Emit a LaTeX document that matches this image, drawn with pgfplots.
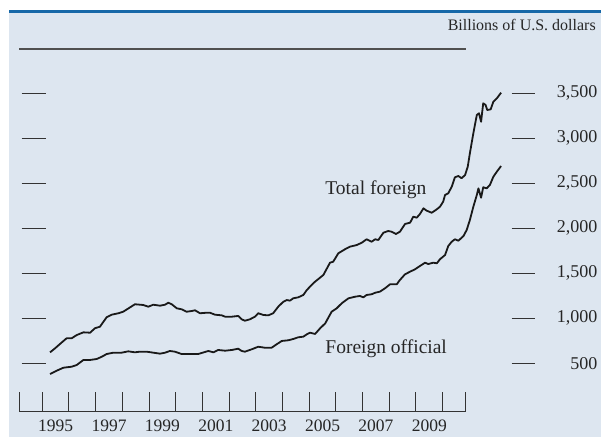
\documentclass[border=0pt]{standalone}
\usepackage{pgfplots}
\pgfplotsset{compat=1.18}
\usepackage{fontspec}
\setmainfont{Liberation Serif}
\definecolor{panel}{RGB}{221,230,240}
\definecolor{topbar}{RGB}{22,104,168}
\definecolor{rulegray}{RGB}{80,80,80}
\begin{document}
\begin{tikzpicture}
\begin{axis}[
  scale only axis, width=601pt, height=437pt,
  xmin=1993.415, xmax=2015.933, ymin=-318.9, ymax=4536.7,
  axis lines=none, ticks=none, clip=false,
]
% background
\fill[white] (1993.415,-318.9) rectangle (2015.933,4536.7);
\fill[panel] (1993.752,-318.9) rectangle (2015.933,4392.2);
\fill[topbar] (1993.752,4392.2) rectangle (2015.933,4425.6);
% top rule and unit
\draw[rulegray, line width=1.2pt] (1994.138,3992.2) -- (2010.873,3992.2);
\node[anchor=base east, inner sep=0pt, font=\fontsize{16}{18}\selectfont, text=black!85] at (2015.745,4199) {Billions of U.S. dollars};
% bottom axis
\draw[black!80, line width=1pt] (1994.138,-37.8) -- (2010.873,-37.8);
\draw[black!80, line width=1pt] (1994.138,-37.8) -- (1994.138,177.8);
\draw[black!80, line width=1pt] (2010.873,-37.8) -- (2010.873,177.8);
\pgfplotsinvokeforeach{1995,1996,1997,1998,1999,2000,2001,2002,2003,2004,2005,2006,2007,2008,2009,2010}{
  \draw[black!80, line width=1pt] (#1,-37.8) -- (#1,177.8);
}
\pgfplotsinvokeforeach{1995,1997,1999,2001,2003,2005,2007,2009}{
  \node[anchor=center, inner sep=0pt, font=\fontsize{17.5}{18}\selectfont, text=black!85] at (#1+0.5,-192) {#1};
}
% left and right dashes with labels
\pgfplotsinvokeforeach{500,1000,1500,2000,2500,3000,3500}{
  \draw[black!80, line width=1pt] (1994.228,#1) -- (1995.139,#1);
  \draw[black!80, line width=1pt] (2012.587,#1) -- (2013.46,#1);
}
\node[anchor=east, inner sep=0pt, font=\fontsize{18}{18}\selectfont, text=black!85] at (2015.8,500) {500};
\node[anchor=east, inner sep=0pt, font=\fontsize{18}{18}\selectfont, text=black!85] at (2015.8,1000) {1,000};
\node[anchor=east, inner sep=0pt, font=\fontsize{18}{18}\selectfont, text=black!85] at (2015.8,1500) {1,500};
\node[anchor=east, inner sep=0pt, font=\fontsize{18}{18}\selectfont, text=black!85] at (2015.8,2000) {2,000};
\node[anchor=east, inner sep=0pt, font=\fontsize{18}{18}\selectfont, text=black!85] at (2015.8,2500) {2,500};
\node[anchor=east, inner sep=0pt, font=\fontsize{18}{18}\selectfont, text=black!85] at (2015.8,3000) {3,000};
\node[anchor=east, inner sep=0pt, font=\fontsize{18}{18}\selectfont, text=black!85] at (2015.8,3500) {3,500};
% series labels
\node[anchor=base west, inner sep=0pt, font=\fontsize{19.5}{20}\selectfont, text=black!85] at (2005.6,2370) {Total foreign};
\node[anchor=base west, inner sep=0pt, font=\fontsize{19.5}{20}\selectfont, text=black!85] at (2005.6,614) {Foreign official};
% Total foreign
\addplot[black!90, line width=1.8pt, line join=round] coordinates {
(1995.29,622) (1995.48,667) (1995.66,714) (1995.91,778) (1996.10,778) (1996.29,814)
(1996.54,844) (1996.79,840) (1996.97,889) (1997.16,907) (1997.41,1011) (1997.60,1040)
(1997.85,1056) (1998.03,1073) (1998.29,1122) (1998.47,1156) (1998.78,1148) (1998.97,1129)
(1999.16,1151) (1999.41,1140) (1999.60,1151) (1999.72,1173) (1999.85,1156) (2000.04,1111)
(2000.22,1100) (2000.41,1073) (2000.60,1081) (2000.72,1089) (2000.91,1056) (2001.16,1062)
(2001.28,1062) (2001.47,1040) (2001.72,1033) (2001.85,1018) (2002.10,1018) (2002.34,1026)
(2002.47,989) (2002.59,973) (2002.78,989) (2002.97,1018) (2003.09,1056) (2003.28,1037)
(2003.47,1033) (2003.65,1056) (2003.84,1129) (2004.03,1184) (2004.16,1203) (2004.28,1196)
(2004.40,1222) (2004.59,1233) (2004.78,1259) (2004.91,1314) (2005.09,1370) (2005.22,1407)
(2005.53,1481) (2005.78,1618) (2005.90,1629) (2006.09,1722) (2006.34,1767) (2006.53,1796)
(2006.78,1814) (2006.97,1840) (2007.15,1878) (2007.34,1851) (2007.47,1878) (2007.59,1870)
(2007.78,1951) (2007.96,1970) (2008.09,1962) (2008.25,1937) (2008.40,1962) (2008.59,2048)
(2008.78,2062) (2008.90,2129) (2009.03,2118) (2009.15,2159) (2009.28,2222) (2009.40,2196)
(2009.59,2173) (2009.78,2211) (2009.90,2240) (2010.02,2296) (2010.09,2370) (2010.21,2389)
(2010.34,2462) (2010.46,2567) (2010.59,2581) (2010.71,2556) (2010.84,2592) (2010.94,2684)
(2011.02,2833) (2011.15,3056) (2011.28,3259) (2011.36,3278) (2011.44,3184) (2011.52,3389)
(2011.61,3370) (2011.67,3314) (2011.80,3322) (2011.90,3407) (2012.03,3444) (2012.19,3507)
};
% Foreign official
\addplot[black!90, line width=1.8pt, line join=round] coordinates {
(1995.29,381) (1995.54,418) (1995.79,451) (1996.10,462) (1996.29,481) (1996.54,537)
(1996.79,537) (1997.04,548) (1997.23,573) (1997.41,603) (1997.66,618) (1997.97,618)
(1998.22,633) (1998.47,622) (1998.66,629) (1998.91,629) (1999.16,618) (1999.41,607)
(1999.60,618) (1999.78,637) (1999.97,629) (2000.22,603) (2000.47,603) (2000.84,603)
(2001.22,637) (2001.41,622) (2001.59,648) (2001.85,640) (2002.10,648) (2002.34,662)
(2002.47,637) (2002.59,629) (2002.85,656) (2003.09,684) (2003.34,673) (2003.59,673)
(2003.78,711) (2003.97,748) (2004.22,756) (2004.40,770) (2004.59,789) (2004.78,796)
(2004.91,822) (2005.03,840) (2005.22,826) (2005.41,889) (2005.60,944) (2005.84,1073)
(2006.03,1111) (2006.22,1167) (2006.47,1222) (2006.72,1240) (2006.90,1248) (2007.03,1233)
(2007.15,1259) (2007.34,1267) (2007.47,1284) (2007.65,1296) (2007.84,1333) (2008.03,1378)
(2008.28,1378) (2008.40,1426) (2008.59,1489) (2008.78,1518) (2008.96,1544) (2009.15,1581)
(2009.34,1618) (2009.46,1603) (2009.65,1618) (2009.78,1611) (2009.90,1656) (2010.09,1703)
(2010.21,1803) (2010.34,1851) (2010.46,1878) (2010.59,1862) (2010.78,1914) (2010.90,1981)
(2011.02,2092) (2011.15,2240) (2011.28,2370) (2011.34,2444) (2011.44,2340) (2011.52,2456)
(2011.65,2444) (2011.77,2481) (2011.90,2573) (2012.03,2629) (2012.19,2692)
};
\end{axis}
\end{tikzpicture}
\end{document}
